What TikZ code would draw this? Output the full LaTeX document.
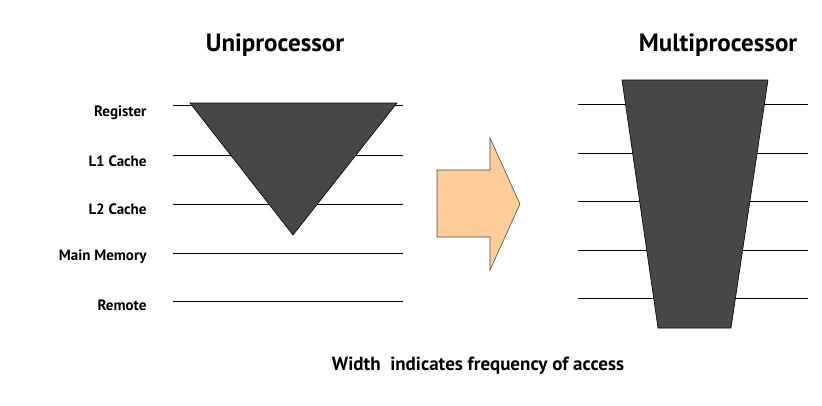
\documentclass[tikz,border=0pt]{standalone}
\usepackage{fontspec}
\setmainfont{PT Sans}
\begin{document}
\begin{tikzpicture}[x=1pt,y=-1pt,
  lvl/.style={draw=black,line width=0.8pt},
  cone/.style={draw=black,line width=0.6pt,fill=black!72},
  lab/.style={anchor=east,font=\bfseries\fontsize{15}{17}\selectfont},
  ttl/.style={font=\bfseries\fontsize{25}{28}\selectfont}]
\useasboundingbox (0,0) rectangle (822,405);
\foreach \y/\n in {105/a,155/b,204/c,253/d,301/e}{
  \coordinate (l\n1) at (173,\y); \coordinate (l\n2) at (403,\y);
  \draw[lvl] (l\n1) -- (l\n2);}
\foreach \y/\n in {104/a,153/b,201/c,250/d,298/e}{
  \coordinate (r\n1) at (578,\y); \coordinate (r\n2) at (808,\y);
  \draw[lvl] (r\n1) -- (r\n2);}
\draw[cone] (190,103) -- (397,103) -- (293,235) -- cycle;
\draw[cone] (622,80) -- (768,80) -- (731,328) -- (658,328) -- cycle;
\node[lab] (reg) at (150,113) {Register};
\node[lab] (l1) at (150,161) {L1 Cache};
\node[lab] (l2) at (150,209) {L2 Cache};
\node[lab] (mm) at (150,257) {Main Memory};
\node[lab] (rm) at (150,305) {Remote};
\node[ttl] (uni) at (275,45) {Uniprocessor};
\node[ttl] (multi) at (718,45) {Multiprocessor};
\node[font=\bfseries\fontsize{19}{22}\selectfont] (cap) at (478,366) {Width\ \ indicates frequency of access};
\draw[draw=black!70,line width=0.6pt,fill={rgb,255:red,255;green,204;blue,153}]
  (437,170) -- (490,170) -- (490,138) -- (520,204) -- (490,270) -- (490,237) -- (437,237) -- cycle;
\end{tikzpicture}
\end{document}
